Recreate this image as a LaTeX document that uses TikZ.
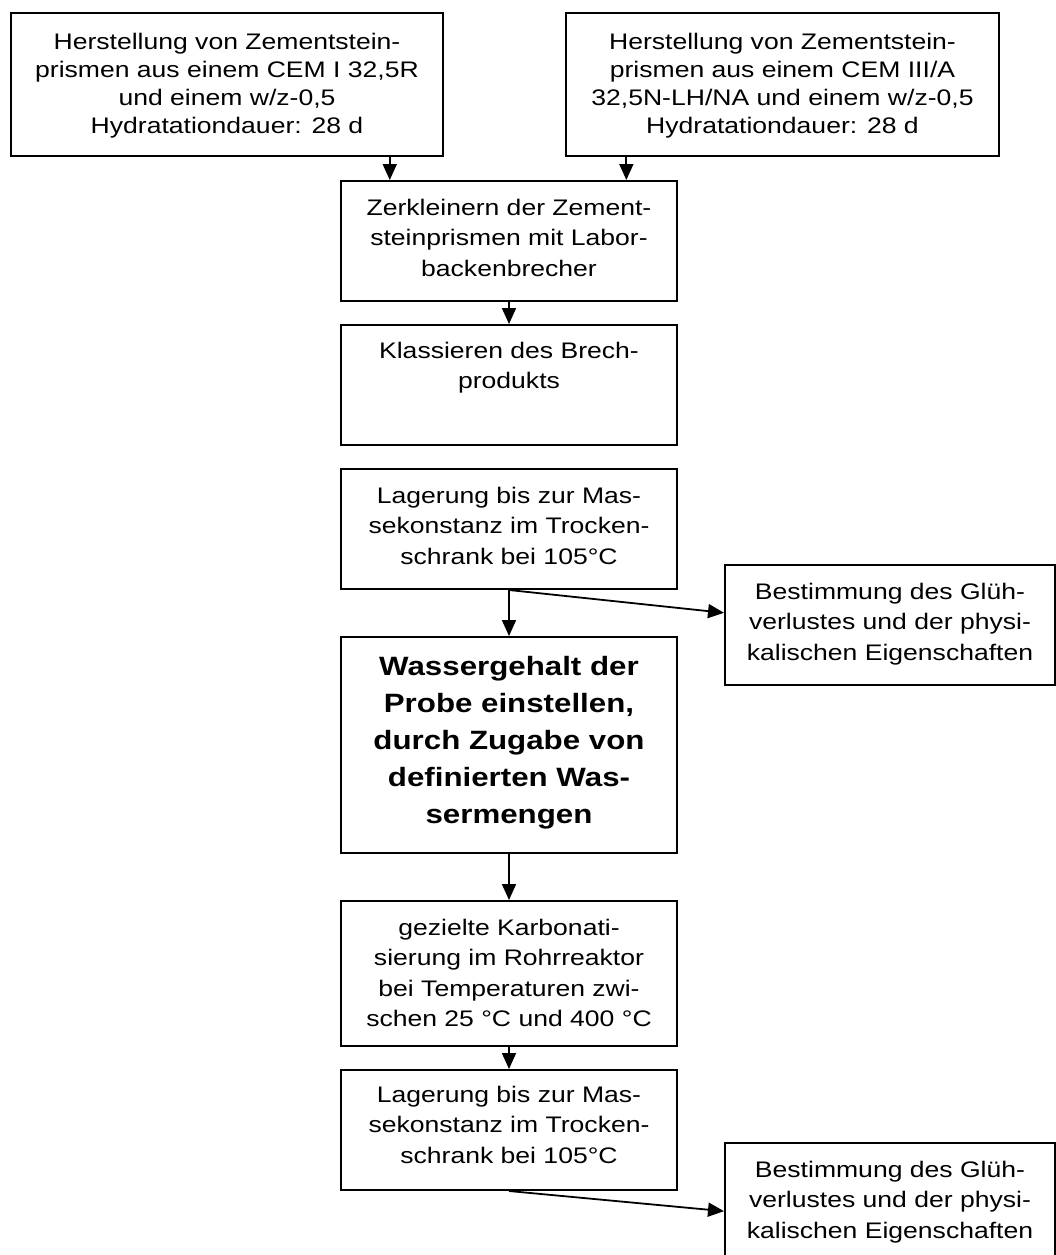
\documentclass[tikz,border=0pt]{standalone}
\usepackage{fontspec}
\setmainfont{Liberation Sans}[FakeStretch=1.18]
\usetikzlibrary{arrows.meta,calc}
\begin{document}
\begin{tikzpicture}[x=1pt,y=-1pt,
  box/.style={draw=black, line width=2pt, rectangle, inner sep=0pt, anchor=north west},
  txt/.style={align=center, inner sep=0pt, anchor=north, font=\fontsize{22.5}{30.5}\selectfont},
  toptxt/.style={txt, font=\fontsize{22.5}{28}\selectfont},
  boldtxt/.style={txt, font=\bfseries\fontsize{26.5}{37}\selectfont},
  arr/.style={line width=1.8pt, -{Triangle[length=16pt,width=14pt]}}]
\useasboundingbox (0,0) rectangle (1055,1255);

% boxes
\node[box, minimum width=432pt, minimum height=143pt] (b1) at (10,12) {};
\node[box, minimum width=433pt, minimum height=143pt] (b2) at (565,12) {};
\node[box, minimum width=336pt, minimum height=120pt] (z) at (340,180) {};
\node[box, minimum width=336pt, minimum height=120pt] (k) at (340,324) {};
\node[box, minimum width=336pt, minimum height=120pt] (l1) at (340,468) {};
\node[box, minimum width=330pt, minimum height=120pt] (best1) at (724,564) {};
\node[box, minimum width=336pt, minimum height=216pt] (w) at (340,636) {};
\node[box, minimum width=336pt, minimum height=145pt] (g) at (340,900) {};
\node[box, minimum width=336pt, minimum height=120pt] (l2) at (340,1069) {};
\node[box, minimum width=330pt, minimum height=120pt] (best2) at (724,1142) {};

% texts
\node[toptxt] (b1t) at ($(b1.north)+(0,17)$) {\rule{0pt}{20pt}Herstellung von Zementstein-\\prismen aus einem CEM I 32,5R\\und einem w/z-0,5\\Hydratationdauer: 28 d};
\node[toptxt] (b2t) at ($(b2.north)+(0,17)$) {\rule{0pt}{20pt}Herstellung von Zementstein-\\prismen aus einem CEM III/A\\32,5N-LH/NA und einem w/z-0,5\\Hydratationdauer: 28 d};
\node[txt] (zt) at ($(z.north)+(0,15)$) {\rule{0pt}{20pt}Zerkleinern der Zement-\\steinprismen mit Labor-\\backenbrecher};
\node[txt] (kt) at ($(k.north)+(0,14)$) {\rule{0pt}{20pt}Klassieren des Brech-\\produkts};
\node[txt] (l1t) at ($(l1.north)+(0,15)$) {\rule{0pt}{20pt}Lagerung bis zur Mas-\\sekonstanz im Trocken-\\schrank bei 105°C};
\node[txt] (best1t) at ($(best1.north)+(0,15)$) {\rule{0pt}{20pt}Bestimmung des Glüh-\\verlustes und der physi-\\kalischen Eigenschaften};
\node[boldtxt] (wt) at ($(w.north)+(0,15)$) {\rule{0pt}{24pt}Wassergehalt der\\Probe einstellen,\\durch Zugabe von\\definierten Was-\\sermengen};
\node[txt] (gt) at ($(g.north)+(0,15)$) {\rule{0pt}{20pt}gezielte Karbonati-\\sierung im Rohrreaktor\\bei Temperaturen zwi-\\schen 25 °C und 400 °C};
\node[txt] (l2t) at ($(l2.north)+(0,13)$) {\rule{0pt}{20pt}Lagerung bis zur Mas-\\sekonstanz im Trocken-\\schrank bei 105°C};
\node[txt] (best2t) at ($(best2.north)+(0,15)$) {\rule{0pt}{20pt}Bestimmung des Glüh-\\verlustes und der physi-\\kalischen Eigenschaften};

% connectors
\coordinate (p1) at ($(b1.south west)!0.875!(b1.south east)$);
\coordinate (p2) at ($(b2.south west)!0.141!(b2.south east)$);
\draw[arr] (p1) -- (p1 |- z.north);
\draw[arr] (p2) -- (p2 |- z.north);
\draw[arr] (z.south) -- (k.north);
\draw[arr] (l1.south) -- (w.north);
\draw[arr] (l1.south) -- ($(best1.north west)!0.4!(best1.south west)$);
\draw[arr] (w.south) -- (g.north);
\draw[arr] (g.south) -- (l2.north);
\draw[arr] (l2.south) -- ($(best2.north west)!0.567!(best2.south west)$);
\end{tikzpicture}
\end{document}
